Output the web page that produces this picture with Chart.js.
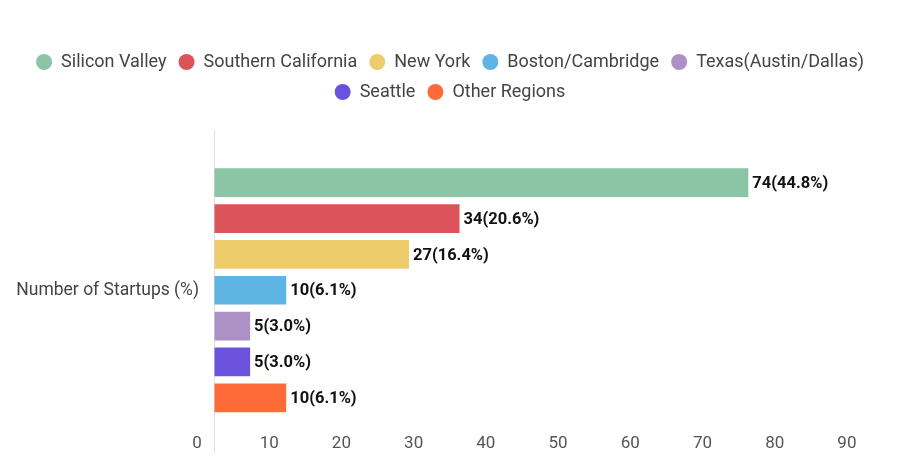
<!DOCTYPE html>
<html>
<head>
<meta charset="utf-8">
<script src="https://cdn.jsdelivr.net/npm/chart.js@4"></script>
<style>
  html, body { margin: 0; padding: 0; background: #ffffff; }
  #wrap { width: 900px; height: 476px; position: relative; }
</style>
</head>
<body>
<div id="wrap"><canvas id="c"></canvas></div>
<script>
const categories = ['Number of Startups (%)'];
const regions = ['Silicon Valley', 'Southern California', 'New York', 'Boston/Cambridge', 'Texas(Austin/Dallas)', 'Seattle', 'Other Regions'];
const startupCounts = [74, 34, 27, 10, 5, 5, 10];
const startupShares = ['44.8%', '20.6%', '16.4%', '6.1%', '3.0%', '3.0%', '6.1%'];
const regionColors = ['#8cc4a6', '#dc535a', '#eecb6b', '#5eb4e2', '#ab91c6', '#6b52dc', '#ff6b38'];
const xTicks = [0, 10, 20, 30, 40, 50, 60, 70, 80, 90];

const datasets = regions.map((r, i) => ({
  label: r,
  data: [startupCounts[i]],
  share: startupShares[i],
  backgroundColor: regionColors[i],
  borderWidth: 0,
  barPercentage: 0.8,
  categoryPercentage: 0.783
}));

const valueLabels = {
  id: 'valueLabels',
  afterDatasetsDraw(chart) {
    const ctx = chart.ctx;
    ctx.save();
    ctx.font = 'bold 16.5px Roboto';
    ctx.fillStyle = '#111111';
    ctx.textAlign = 'left';
    ctx.textBaseline = 'middle';
    chart.data.datasets.forEach((ds, i) => {
      const meta = chart.getDatasetMeta(i);
      meta.data.forEach((bar, j) => {
        ctx.fillText(ds.data[j] + '(' + ds.share + ')', bar.x + 4, bar.y + 1);
      });
    });
    ctx.restore();
  }
};

const legendSpacing = {
  id: 'legendSpacing',
  beforeInit(chart) {
    const origFit = chart.legend.fit;
    chart.legend.fit = function () {
      origFit.bind(chart.legend)();
      this.height += 19;
    };
  }
};

new Chart(document.getElementById('c'), {
  type: 'bar',
  data: { labels: categories, datasets },
  options: {
    indexAxis: 'y',
    responsive: true,
    maintainAspectRatio: false,
    animation: false,
    layout: { padding: { top: 41, right: 0, left: 0, bottom: 23 } },
    plugins: {
      legend: {
        position: 'top',
        labels: {
          usePointStyle: true,
          pointStyle: 'circle',
          boxWidth: 16,
          boxHeight: 11.3,
          padding: 12,
          color: '#444444',
          font: { family: 'Roboto', size: 18 }
        }
      },
      tooltip: { enabled: false }
    },
    scales: {
      x: {
        min: 0,
        max: 95,
        afterBuildTicks(scale) { scale.ticks = xTicks.map(v => ({ value: v })); },
        grid: {
          drawOnChartArea: false,
          drawTicks: true,
          tickLength: 3,
          color: (c) => (c.tick && c.tick.value === 0 ? '#dddddd' : 'rgba(0,0,0,0)')
        },
        border: { display: false },
        ticks: {
          color: '#555555',
          font: { family: 'Roboto', size: 17 },
          padding: -20,
          labelOffset: -17,
          maxRotation: 0,
          autoSkip: false
        }
      },
      y: {
        afterFit(scale) { scale.width = 214; },
        grid: { display: false, drawTicks: false },
        border: { display: true, color: '#dddddd', width: 1 },
        ticks: {
          color: '#444444',
          font: { family: 'Roboto', size: 17.5 },
          padding: 15
        }
      }
    }
  },
  plugins: [valueLabels, legendSpacing]
});
</script>
</body>
</html>
